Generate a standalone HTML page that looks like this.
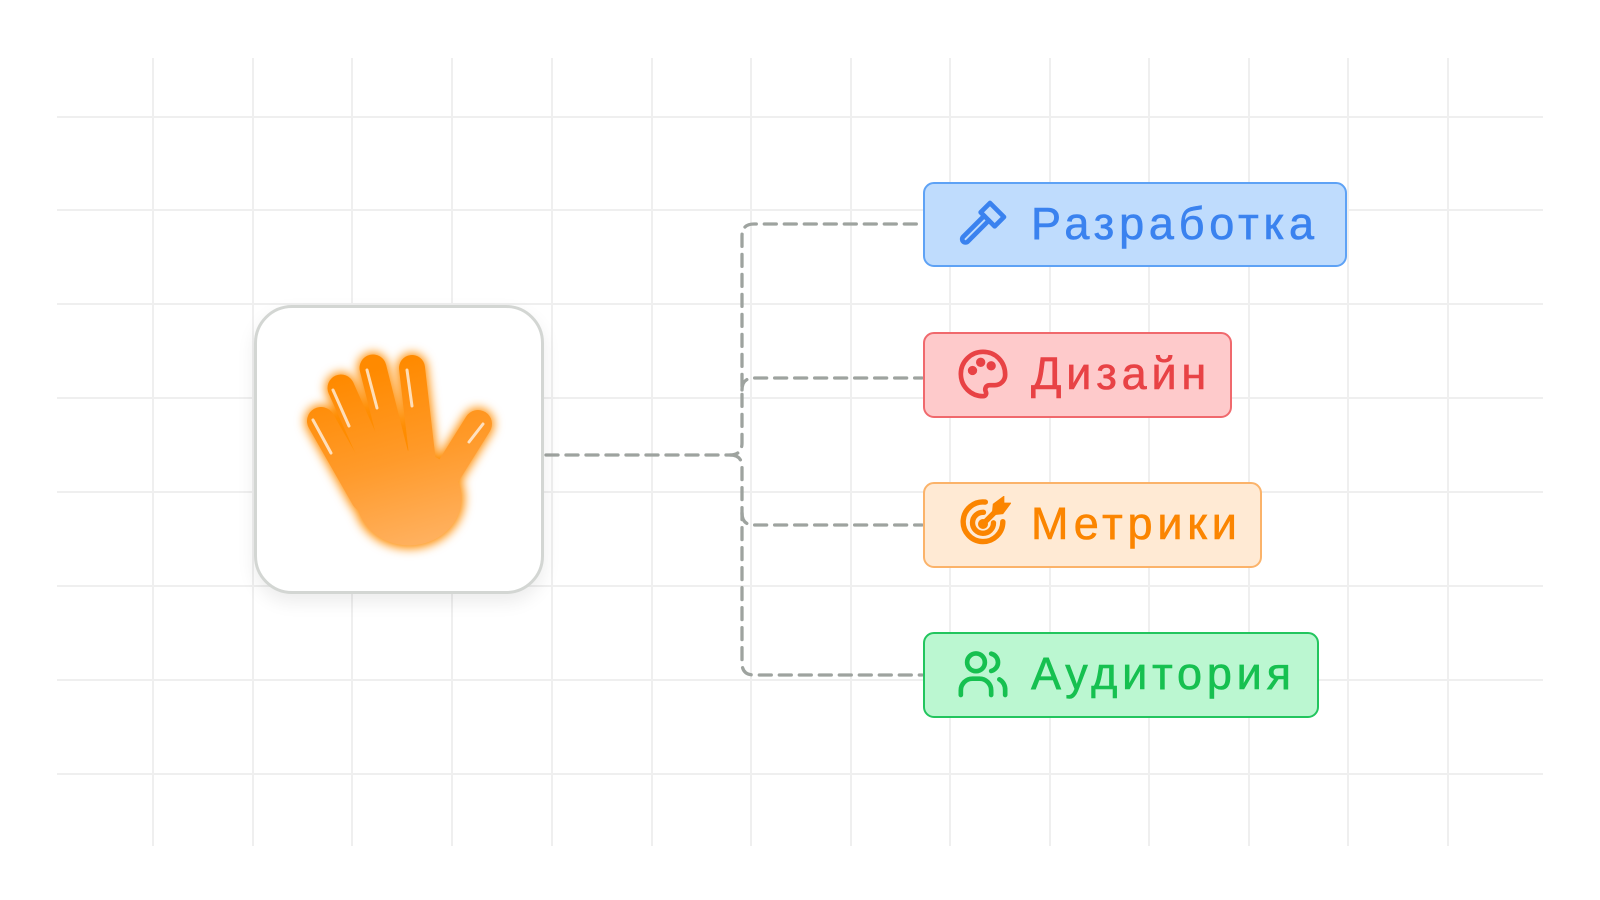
<!DOCTYPE html>
<html><head><meta charset="utf-8">
<style>
html,body{margin:0;padding:0;background:#fff;}
body{width:1600px;height:900px;position:relative;overflow:hidden;font-family:"Liberation Sans",sans-serif;}
.box{position:absolute;left:923px;height:82px;border:2.5px solid;border-radius:11px;box-sizing:border-box;}
.box svg{position:absolute;left:30px;top:12px;}
.box span{position:absolute;left:106px;top:14px;font-size:45px;letter-spacing:4.8px;line-height:52px;-webkit-text-stroke:0.6px currentColor;}
</style></head><body>
<svg width="1600" height="900" style="position:absolute;left:0;top:0">
<g stroke="#efefef" stroke-width="2">
<line x1="153" y1="58" x2="153" y2="846"/><line x1="253" y1="58" x2="253" y2="846"/><line x1="352" y1="58" x2="352" y2="846"/><line x1="452" y1="58" x2="452" y2="846"/><line x1="552" y1="58" x2="552" y2="846"/><line x1="652" y1="58" x2="652" y2="846"/><line x1="751" y1="58" x2="751" y2="846"/><line x1="851" y1="58" x2="851" y2="846"/><line x1="950" y1="58" x2="950" y2="846"/><line x1="1050" y1="58" x2="1050" y2="846"/><line x1="1149" y1="58" x2="1149" y2="846"/><line x1="1249" y1="58" x2="1249" y2="846"/><line x1="1348" y1="58" x2="1348" y2="846"/><line x1="1448" y1="58" x2="1448" y2="846"/>
<line x1="57" y1="117" x2="1543" y2="117"/><line x1="57" y1="210" x2="1543" y2="210"/><line x1="57" y1="304" x2="1543" y2="304"/><line x1="57" y1="398" x2="1543" y2="398"/><line x1="57" y1="492" x2="1543" y2="492"/><line x1="57" y1="586" x2="1543" y2="586"/><line x1="57" y1="680" x2="1543" y2="680"/><line x1="57" y1="774" x2="1543" y2="774"/>
</g>
<g fill="none" stroke="#9ea39f" stroke-width="3.3" stroke-dasharray="12 8" stroke-linecap="round">
<path d="M546 455 H730 Q742 455 742 443 V236 Q742 224 754 224 H922"/>
<path d="M730 455 Q742 455 742 467 V663 Q742 675 754 675 H922"/>
<path d="M742 390 Q742 378 754 378 H922"/>
<path d="M742 513 Q742 525 754 525 H922"/>
</g>
</svg>

<div style="position:absolute;left:254px;top:305px;width:290px;height:289px;box-sizing:border-box;border:3px solid #d3d6d3;border-radius:38px;background:#fff;box-shadow:0 8px 18px rgba(0,0,0,0.08);">
<svg width="284" height="283" viewBox="0 0 284 283" style="position:absolute;left:0;top:0">
<defs>
<filter id="gl" x="-30%" y="-30%" width="160%" height="160%"><feGaussianBlur stdDeviation="5"/></filter>
<linearGradient id="hg" gradientUnits="userSpaceOnUse" x1="120" y1="60" x2="170" y2="240"><stop offset="0" stop-color="#ff8a00"/><stop offset="0.5" stop-color="#ff9a2a"/><stop offset="1" stop-color="#ffb262"/></linearGradient>
</defs>
<g stroke="#ff8c00" fill="#ff8c00" stroke-linecap="round" filter="url(#gl)">
<line x1="64" y1="113" x2="108" y2="190" stroke-width="32"/>
<line x1="84" y1="80" x2="122" y2="165" stroke-width="31"/>
<line x1="116" y1="60" x2="140" y2="155" stroke-width="31"/>
<line x1="155" y1="60" x2="166" y2="155" stroke-width="30"/>
<line x1="221" y1="116" x2="186" y2="172" stroke-width="32"/>
<ellipse cx="152" cy="190" rx="55" ry="50"/>
</g>
<g stroke="url(#hg)" fill="url(#hg)" stroke-linecap="round">
<line x1="64" y1="113" x2="108" y2="190" stroke-width="28"/>
<line x1="84" y1="80" x2="122" y2="165" stroke-width="27"/>
<line x1="116" y1="60" x2="140" y2="155" stroke-width="27"/>
<line x1="155" y1="60" x2="166" y2="155" stroke-width="26"/>
<line x1="221" y1="116" x2="186" y2="172" stroke-width="28"/>
<ellipse cx="152" cy="190" rx="52" ry="47"/>
</g>
<g stroke="#fff" stroke-opacity="0.7" stroke-width="3" fill="none" stroke-linecap="round">
<path d="M56 112 L74 145"/><path d="M76 82 L92 118"/><path d="M110 62 L120 100"/><path d="M150 62 L155 98"/><path d="M226 116 L212 134"/>
</g>
</svg>
</div>

<div class="box" style="top:182px;width:424px;height:85px;background:#bfdcfd;border-color:#5ea2f5;">
<svg width="56" height="56" viewBox="0 0 24 24" fill="none" stroke="#3a82ef" stroke-width="2" stroke-linejoin="round" stroke-linecap="round"><path d="M12.5 8.5 L3.5 17.5 a1.4 1.4 0 0 0 2 2 L14.5 10.5"/><path d="M11 7 L15 3 L21 9 L17 13 Z"/></svg>
<span style="color:#3a82ef">Разработка</span></div>

<div class="box" style="top:332px;width:309px;height:86px;background:#fecacb;border-color:#f0696d;">
<svg width="56" height="56" viewBox="0 0 24 24" fill="none" stroke="#e84245" stroke-width="2" stroke-linecap="round"><path d="M12 2.5 a9.5 9.5 0 1 0 0 19 c1.2 0 1.6-1 1.2-1.9 c-.6-1.3 .1-2.8 1.6-2.8 h2.2 a4.5 4.5 0 0 0 4.5-4.5 C21.5 6.5 17.2 2.5 12 2.5 Z"/><circle cx="7.5" cy="10.5" r="1" fill="#e84245"/><circle cx="11" cy="7" r="1" fill="#e84245"/><circle cx="15.5" cy="8.5" r="1" fill="#e84245"/></svg>
<span style="color:#e84245">Дизайн</span></div>

<div class="box" style="top:482px;width:339px;height:86px;background:#ffead4;border-color:#fbb36a;">
<svg width="56" height="56" viewBox="0 0 24 24" fill="none" stroke="#fb8500" stroke-width="2.3" stroke-linecap="round"><path d="M20.5 11 a8.5 8.5 0 1 1 -7.5 -8.4"/><path d="M16.5 11.5 a4.5 4.5 0 1 1 -4.3 -4.5"/><circle cx="12" cy="12" r="1" fill="#fb8500"/><path d="M12 12 L17 7"/><path d="M17 7 L17.3 4 L20 2 L20 4 L22 4 L20 6.7 Z" fill="#fb8500"/></svg>
<span style="color:#fb8500">Метрики</span></div>

<div class="box" style="top:632px;width:396px;height:86px;background:#bbf7d1;border-color:#22c55e;">
<svg width="56" height="56" viewBox="0 0 24 24" fill="none" stroke="#16c050" stroke-width="2" stroke-linecap="round"><circle cx="9" cy="7" r="3.8"/><path d="M2.5 21 v-2 a5 5 0 0 1 5-5 h3 a5 5 0 0 1 5 5 v2"/><path d="M15.5 3.3 a3.8 3.8 0 0 1 0 7.4"/><path d="M19 14.3 a5 5 0 0 1 2.5 4.7 v2"/></svg>
<span style="color:#16c050">Аудитория</span></div>
</body></html>
